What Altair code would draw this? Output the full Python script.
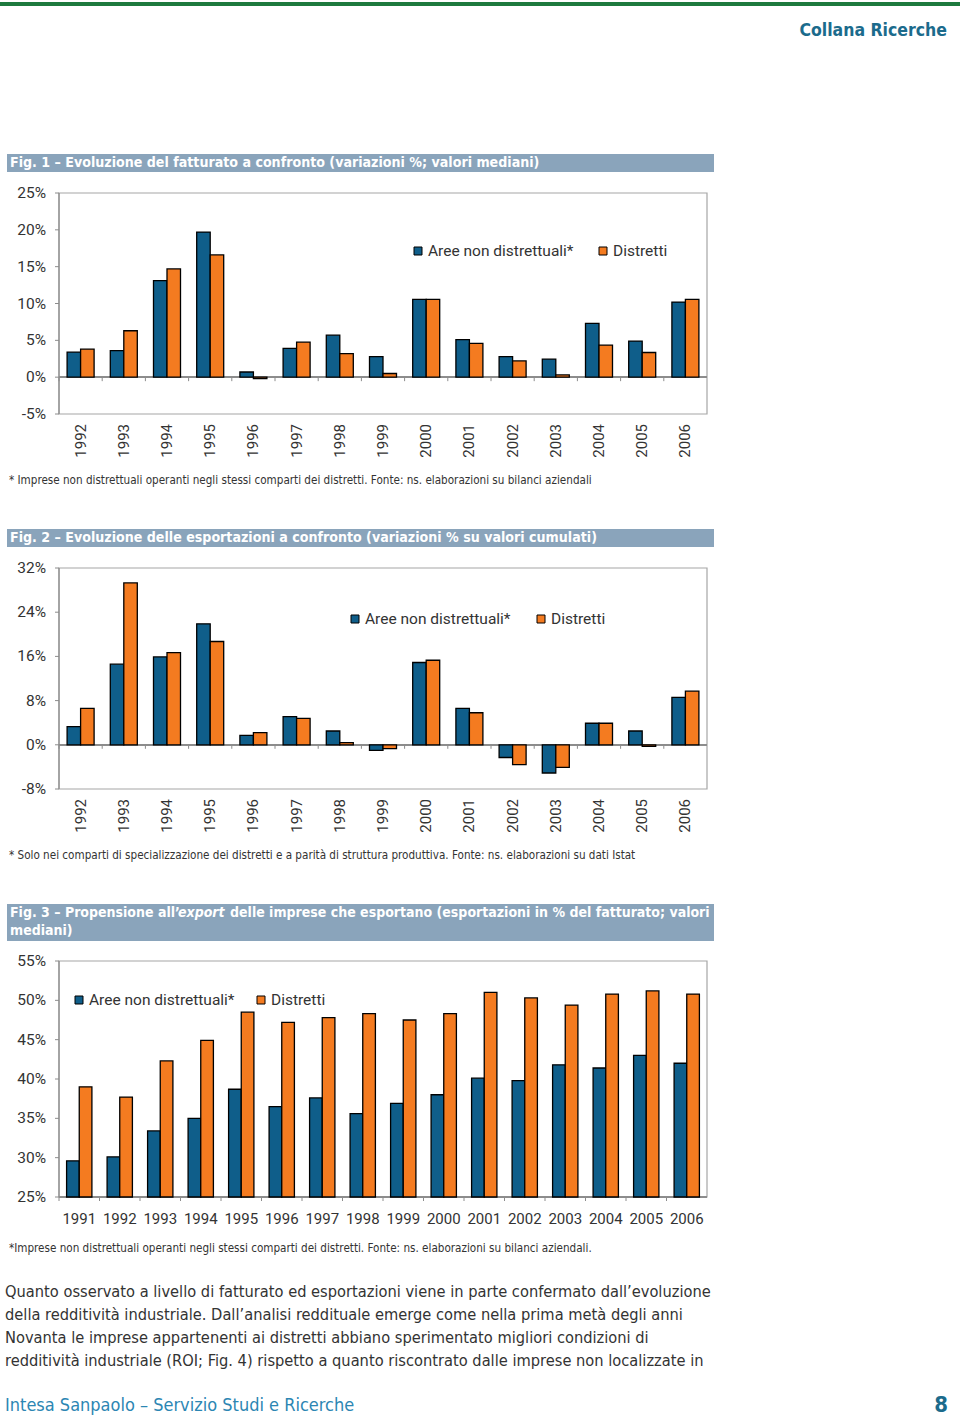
import altair as alt
import pandas as pd

# ---------------- data ----------------
series = ["Aree non distrettuali*", "Distretti"]

years_f12 = [str(y) for y in range(1992, 2007)]
fig1_aree = [3.4, 3.6, 13.1, 19.7, 0.7, 3.9, 5.7, 2.8, 10.55, 5.1, 2.8, 2.45, 7.3, 4.9, 10.2]
fig1_distretti = [3.8, 6.3, 14.7, 16.6, -0.2, 4.75, 3.2, 0.5, 10.55, 4.6, 2.2, 0.3, 4.35, 3.35, 10.55]
fig1_ticks = [25, 20, 15, 10, 5, 0, -5]

fig2_aree = [3.3, 14.6, 15.9, 21.9, 1.7, 5.1, 2.5, -1.0, 14.9, 6.6, -2.3, -5.1, 3.9, 2.5, 8.6]
fig2_distretti = [6.6, 29.3, 16.7, 18.7, 2.2, 4.8, 0.4, -0.7, 15.3, 5.8, -3.6, -4.1, 3.9, -0.3, 9.7]
fig2_ticks = [32, 24, 16, 8, 0, -8]

years_f3 = [str(y) for y in range(1991, 2007)]
fig3_aree = [29.6, 30.1, 33.4, 35.0, 38.7, 36.5, 37.6, 35.6, 36.9, 38.0, 40.1, 39.8, 41.8, 41.4, 43.0, 42.0]
fig3_distretti = [39.0, 37.7, 42.3, 44.9, 48.5, 47.2, 47.8, 48.3, 47.5, 48.3, 51.0, 50.3, 49.4, 50.8, 51.2, 50.8]
fig3_ticks = [55, 50, 45, 40, 35, 30, 25]

title1 = "Fig. 1 – Evoluzione del fatturato a confronto (variazioni %; valori mediani)"
title2 = "Fig. 2 – Evoluzione delle esportazioni a confronto (variazioni % su valori cumulati)"
title3_a = "Fig. 3 – Propensione all’"
title3_b = "export"
title3_c = "delle imprese che esportano (esportazioni in % del fatturato; valori"
title3_d = "mediani)"
note1 = "* Imprese non distrettuali operanti negli stessi comparti dei distretti. Fonte: ns. elaborazioni su bilanci aziendali"
note2 = "* Solo nei comparti di specializzazione dei distretti e a parità di struttura produttiva. Fonte: ns. elaborazioni su dati Istat"
note3 = "*Imprese non distrettuali operanti negli stessi comparti dei distretti. Fonte: ns. elaborazioni su bilanci aziendali."
body = [
    "Quanto osservato a livello di fatturato ed esportazioni viene in parte confermato dall’evoluzione",
    "della redditività industriale. Dall’analisi reddituale emerge come nella prima metà degli anni",
    "Novanta le imprese appartenenti ai distretti abbiano sperimentato migliori condizioni di",
    "redditività industriale (ROI; Fig. 4) rispetto a quanto riscontrato dalle imprese non localizzate in",
]

# ---------------- style ----------------
BLUE = "#0f5e8a"
ORANGE = "#f47b20"
BAR_TITLE = "#8aa4bb"
TEAL = "#1b6b8c"
TEAL_LIGHT = "#2c86b3"
GREEN = "#1d7a3e"
GRAY = "#a6a6a6"
AX = "#8c8c8c"
TXT = "#333333"
LABEL_FONT = "Roboto"
NARROW = "Liberation Sans Narrow, DejaVu Sans Condensed, Roboto, sans-serif"

PL, PR = 59, 707

one = alt.Data(values=[{}])


def txt(x, y, s, size=12, color=TXT, weight="normal", align="left", font=NARROW, style="normal"):
    return alt.Chart(one).mark_text(
        text=s, fontSize=size, color=color, fontWeight=weight, align=align,
        baseline="middle", font=font, fontStyle=style,
    ).encode(x=alt.value(x), y=alt.value(y))


def box(x1, x2, y1, y2, fill=None, stroke=None, sw=1):
    kw = {}
    if fill is not None:
        kw["fill"] = fill
    else:
        kw["fillOpacity"] = 0
    if stroke is not None:
        kw["stroke"] = stroke
        kw["strokeWidth"] = sw
    return alt.Chart(one).mark_rect(**kw).encode(
        x=alt.value(x1), x2=alt.value(x2), y=alt.value(y1), y2=alt.value(y2)
    )


def legend(x1, x2, y):
    return [
        box(x1 - 4, x1 + 4, y - 4, y + 4, fill=BLUE, stroke="black", sw=1),
        txt(x1 + 10, y, series[0], size=15.5, font=LABEL_FONT),
        box(x2 - 4, x2 + 4, y - 4, y + 4, fill=ORANGE, stroke="black", sw=1),
        txt(x2 + 10, y, series[1], size=15.5, font=LABEL_FONT),
    ]


def panel(years, aree, distr, ticks, top, bottom, rotate, label_y):
    dmin, dmax = min(ticks), max(ticks)
    base = 0 if dmin < 0 else dmin
    xs = alt.Scale(domain=years, range=[PL, PR], paddingInner=0, paddingOuter=0)
    ys = alt.Scale(domain=[dmin, dmax], range=[bottom, top], nice=False, zero=False)
    step = (PR - PL) / len(years)
    bw = step / 3.2

    layers = [box(PL, PR, top, bottom, stroke=GRAY, sw=1.2)]
    layers.append(alt.Chart(one).mark_rule(color=AX, strokeWidth=1.2).encode(
        x=alt.value(PL), y=alt.value(top), y2=alt.value(bottom)))

    tdf = pd.DataFrame({"v": ticks, "lab": [f"{t}%" for t in ticks]})
    layers.append(alt.Chart(tdf).mark_rule(color=AX).encode(
        x=alt.value(PL - 4), x2=alt.value(PL), y=alt.Y("v:Q", scale=ys, axis=None)))
    layers.append(alt.Chart(tdf).mark_text(
        align="right", baseline="middle", fontSize=15.5, font=LABEL_FONT, color=TXT
    ).encode(x=alt.value(46), y=alt.Y("v:Q", scale=ys, axis=None), text="lab:N"))

    ydf = pd.DataFrame({"anno": years, "base": [base] * len(years)})
    layers.append(alt.Chart(ydf).mark_rule(color=AX, strokeWidth=1).encode(
        x=alt.value(PL), x2=alt.value(PR), y=alt.Y("base:Q", scale=ys, axis=None)))
    layers.append(alt.Chart(ydf).mark_rule(color=AX, y2Offset=4).encode(
        x=alt.X("anno:N", scale=xs, axis=None, bandPosition=0),
        y=alt.Y("base:Q", scale=ys, axis=None), y2="base:Q"))

    for vals, col, off in ((aree, BLUE, -bw / 2), (distr, ORANGE, bw / 2)):
        df = pd.DataFrame({"anno": years, "valore": vals, "base": [base] * len(years)})
        layers.append(alt.Chart(df).mark_bar(
            stroke="black", strokeWidth=1.3, color=col, width=bw, xOffset=off
        ).encode(
            x=alt.X("anno:N", scale=xs, axis=None),
            y=alt.Y("valore:Q", scale=ys, axis=None),
            y2="base:Q",
        ))

    if rotate:
        layers.append(alt.Chart(ydf).mark_text(
            angle=270, align="right", baseline="middle", fontSize=15, font=LABEL_FONT, color=TXT
        ).encode(x=alt.X("anno:N", scale=xs, axis=None), y=alt.value(label_y), text="anno:N"))
    else:
        layers.append(alt.Chart(ydf).mark_text(
            align="center", baseline="middle", fontSize=15, font=LABEL_FONT, color=TXT
        ).encode(x=alt.X("anno:N", scale=xs, axis=None), y=alt.value(label_y), text="anno:N"))
    return layers


decor = [
    box(0, 960, 2, 6, fill=GREEN),
    txt(947, 31, "Collana Ricerche", size=17.5, color=TEAL, weight="bold", align="right"),
    box(7, 714, 154, 172, fill=BAR_TITLE),
    txt(10, 163, title1, size=14.1, color="white", weight="bold"),
    txt(9, 481, note1, size=11.6),
    box(7, 714, 529, 547, fill=BAR_TITLE),
    txt(10, 538, title2, size=14.1, color="white", weight="bold"),
    txt(9, 856, note2, size=11.6),
    box(7, 714, 904, 941, fill=BAR_TITLE),
    txt(10, 913, title3_a, size=14, color="white", weight="bold"),
    txt(178, 913, title3_b, size=14, color="white", weight="bold", style="italic"),
    txt(230, 913, title3_c, size=14, color="white", weight="bold"),
    txt(10, 931, title3_d, size=14, color="white", weight="bold"),
    txt(9, 1249, note3, size=11.6),
    txt(5, 1406, "Intesa Sanpaolo – Servizio Studi e Ricerche", size=18, color=TEAL_LIGHT),
    txt(948, 1405, "8", size=22, color=TEAL, weight="bold", align="right"),
]
decor += legend(418, 603, 251)
decor += legend(355, 541, 619)
decor += legend(79, 261, 1000)
for i, line in enumerate(body):
    decor.append(txt(5, 1292 + 23 * i, line, size=16.3))

layers = decor
layers += panel(years_f12, fig1_aree, fig1_distretti, fig1_ticks, 193, 414, True, 424)
layers += panel(years_f12, fig2_aree, fig2_distretti, fig2_ticks, 568, 789, True, 799)
layers += panel(years_f3, fig3_aree, fig3_distretti, fig3_ticks, 961, 1197, False, 1219)

chart = alt.layer(*layers).resolve_scale(
    x="independent", y="independent"
).properties(
    width=960, height=1421, padding=0,
    autosize=alt.AutoSizeParams(type="none"),
    background="white",
).configure_view(stroke=None)

chart.save("out.html", embed_options={"renderer": "svg", "actions": False})
